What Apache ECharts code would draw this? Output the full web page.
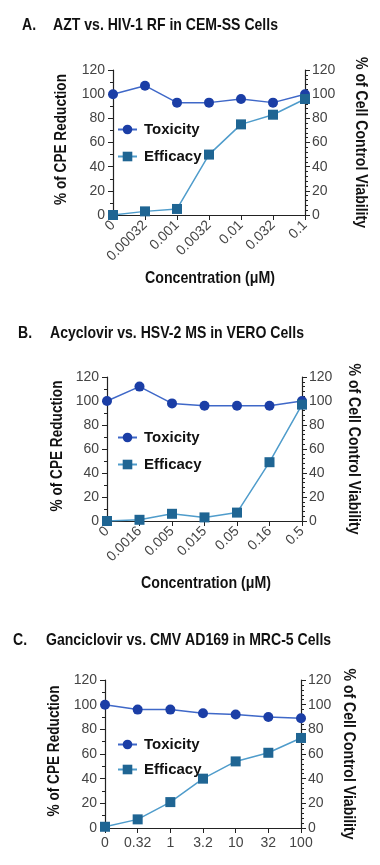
<!DOCTYPE html>
<html><head><meta charset="utf-8">
<script src="https://cdn.jsdelivr.net/npm/echarts@6/dist/echarts.min.js"></script>
<style>html,body{margin:0;padding:0;background:#fff}#c{width:380px;height:865px}</style>
</head><body><div id="c"></div>
<script>
const catsA = ['0','0.00032','0.001','0.0032','0.01','0.032','0.1'];
const toxA = [100, 107, 93, 93, 96, 93, 100];
const effA = [0, 3, 5, 50, 75, 83, 96];
const catsB = ['0','0.0016','0.005','0.015','0.05','0.16','0.5'];
const toxB = [100, 112, 98, 96, 96, 96, 100];
const effB = [0, 1, 6, 3, 7, 49, 97];
const catsC = ['0','0.32','1','3.2','10','32','100'];
const toxC = [100, 96, 96, 93, 92, 90, 89];
const effC = [1, 7, 21, 40, 54, 61, 73];
const titles = ['AZT vs. HIV-1 RF in CEM-SS Cells','Acyclovir vs. HSV-2 MS in VERO Cells','Ganciclovir vs. CMV AD169 in MRC-5 Cells'];
const letters = ['A.','B.','C.'];
const leftName = '% of CPE Reduction';
const rightName = '% of Cell Control Viability';
const xName = 'Concentration (\u03bcM)';
const yTicks = {min:0, max:120, interval:20};

const BOLD = '"Liberation Sans",Arial,sans-serif';
const LIGHT = '"Liberation Sans",Arial,sans-serif';
const TOX_M = '#1b3ea6', TOX_L = '#3f68c8', EFF_M = '#1f6593', EFF_L = '#4f9ccb';

const grids = [
  {left:113, top:70, width:192, height:145},
  {left:107, top:377, width:195, height:144},
  {left:105, top:680, width:196, height:148}
];
const cats = [catsA, catsB, catsC];
const tox = [toxA, toxB, toxC];
const eff = [effA, effB, effC];
const titleY = [25, 333, 640];
const letterLefts = [22, 18, 13];
const textLefts = [53, 50, 46];
const legendTops = [122, 430, 737];
const leftNameX = [62, 58, 55];
const rightNameX = [360, 353, 348];
const xNamePos = [[210, 278], [206, 583], null];

// condensed look: measure text once and squeeze horizontally
const mctx = document.createElement('canvas').getContext('2d');
function w(text, size){ mctx.font = 'bold ' + size + 'px "Liberation Sans", Arial'; return mctx.measureText(text).width; }
const titleScale = 225 / w(titles[0], 17);
const leftScale = 131 / w(leftName, 16);
const rightScale = 171 / w(rightName, 16);
const xScale = 130 / w(xName, 17);

function label(text, x, y, size, rot, sx, align){
  return {type:'text', x:x, y:y, rotation:rot, scaleX:sx, scaleY:1, silent:true,
    style:{text:text, x:0, y:0, align:align||'center', verticalAlign:'middle',
      font:'bold ' + size + 'px "Liberation Sans", Arial, sans-serif', fill:'#111'}};
}

const axisLine = {show:true, lineStyle:{color:'#222', width:1.2}};
const option = {
  backgroundColor:'#fff',
  animation:false,
  legend: [], grid: grids, xAxis: [], yAxis: [], series: [], graphic: []
};
for (let i=0;i<3;i++){
  const g = grids[i];
  const cy = g.top + g.height/2;
  option.graphic.push(label(letters[i], letterLefts[i], titleY[i], 17, 0, titleScale, 'left'));
  option.graphic.push(label(titles[i], textLefts[i], titleY[i], 17, 0, titleScale, 'left'));
  option.graphic.push(label(leftName, leftNameX[i], cy - 3, 16, Math.PI/2, leftScale));
  option.graphic.push(label(rightName, rightNameX[i], cy, 16, -Math.PI/2, rightScale));
  if (xNamePos[i]) option.graphic.push(label(xName, xNamePos[i][0], xNamePos[i][1], 17, 0, xScale));
  option.legend.push({
    orient:'vertical', left:117, top:legendTops[i], padding:0, itemWidth:19, itemHeight:12,
    itemGap: i===2?10:12,
    data:['Toxicity','Efficacy'],
    textStyle:{fontFamily:BOLD, fontWeight:'bold', fontSize:15, color:'#111', padding:[0,0,0,2]}
  });
  option.xAxis.push({
    type:'category', gridIndex:i, data:cats[i], boundaryGap:false,
    axisLine: axisLine,
    axisTick:{show:true, inside:false, length:5, lineStyle:{color:'#222'}},
    axisLabel:{interval:0, rotate: i<2?45:0, margin:8, fontFamily:LIGHT, fontSize:14, color:'#444'}
  });
  option.yAxis.push({
    type:'value', gridIndex:i, min:yTicks.min, max:yTicks.max, interval:yTicks.interval,
    position:'left', splitLine:{show:false},
    axisLine: axisLine,
    axisTick:{show:true, length:5, lineStyle:{color:'#222'}},
    minorTick:{show:true, splitNumber:2, length:3, lineStyle:{color:'#222'}},
    axisLabel:{margin:8, fontFamily:LIGHT, fontSize:14, color:'#444'}
  });
  option.yAxis.push({
    type:'value', gridIndex:i, min:yTicks.min, max:yTicks.max, interval:yTicks.interval,
    position:'right', splitLine:{show:false},
    axisLine: axisLine,
    axisTick:{show:true, length:5, lineStyle:{color:'#222'}},
    minorTick:{show:true, splitNumber:5, length:3, lineStyle:{color:'#222'}},
    axisLabel:{margin:7, fontFamily:LIGHT, fontSize:14, color:'#444'}
  });
  option.series.push({
    name:'Toxicity', type:'line', xAxisIndex:i, yAxisIndex:2*i+1, data:tox[i],
    symbol:'circle', symbolSize:10, lineStyle:{color:TOX_L, width:1.5},
    itemStyle:{color:TOX_M, borderWidth:0}
  });
  option.series.push({
    name:'Efficacy', type:'line', xAxisIndex:i, yAxisIndex:2*i, data:eff[i],
    symbol:'rect', symbolSize:10, lineStyle:{color:EFF_L, width:1.5},
    itemStyle:{color:EFF_M, borderWidth:0}
  });
}
const chart = echarts.init(document.getElementById('c'), null, {renderer:'canvas'});
chart.setOption(option);
</script></body></html>
